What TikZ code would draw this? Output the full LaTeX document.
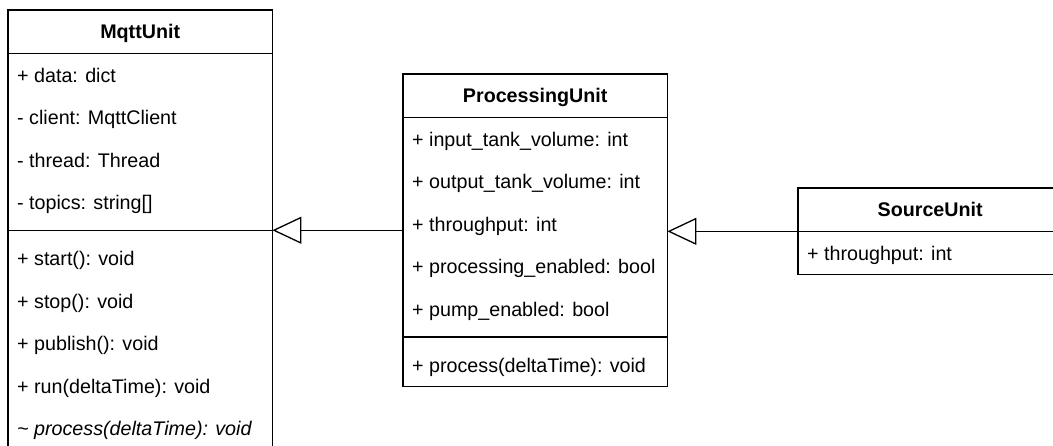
\documentclass[tikz,border=0pt]{standalone}
\usepackage{fontspec}
\setmainfont{Liberation Sans}
\usetikzlibrary{arrows.meta,positioning}
\setlength{\arrayrulewidth}{1.3pt}
\newcommand{\rowstrut}{\rule[-14pt]{0pt}{42.5pt}}
\newcommand{\classhead}[1]{\multicolumn{1}{@{}c@{}}{\rowstrut\textbf{#1}}}
\newcommand{\classrule}{\noalign{\vskip 6pt}\hline\noalign{\vskip 6pt}}

\begin{document}
\begin{tikzpicture}[x=1pt,y=-1pt,
  umlclass/.style={inner sep=0pt, anchor=north west, font=\fontsize{19.7pt}{24pt}\selectfont},
  inherit/.style={-{Triangle[open,length=29pt,width=27pt]}, line width=1.3pt}]
\useasboundingbox (0,0) rectangle (1053,446);
\clip (0,0) rectangle (1053,446);

\node (mqtt) [umlclass] at (8,10) {
\begin{tabular}{@{\hspace{9pt}}p{255pt}@{}}
\classhead{MqttUnit} \\
  \hline
\rowstrut + data: dict \\
\rowstrut - client: MqttClient \\
\rowstrut - thread: Thread \\
\rowstrut - topics: string[] \\
\classrule
\rowstrut + start(): void \\
\rowstrut + stop(): void \\
\rowstrut + publish(): void \\
\rowstrut + run(deltaTime): void \\
\rowstrut \textit{\textasciitilde{} process(deltaTime): void} \\
\end{tabular}
};
\draw [line width=1.3pt] (mqtt.north west) rectangle (mqtt.south east);

\node (proc) [umlclass] at (403,74) {
\begin{tabular}{@{\hspace{9pt}}p{255pt}@{}}
\classhead{ProcessingUnit} \\
  \hline
\rowstrut + input\_tank\_volume: int \\
\rowstrut + output\_tank\_volume: int \\
\rowstrut + throughput: int \\
\rowstrut + processing\_enabled: bool \\
\rowstrut + pump\_enabled: bool \\
\classrule
\rowstrut + process(deltaTime): void \\
\end{tabular}
};
\draw [line width=1.3pt] (proc.north west) rectangle (proc.south east);

\node (source) [umlclass] at (798,188) {
\begin{tabular}{@{\hspace{9pt}}p{255pt}@{}}
\classhead{SourceUnit} \\
  \hline
\rowstrut + throughput: int \\
\end{tabular}
};
\draw [line width=1.3pt] (source.north west) rectangle (source.south east);

% inheritance
\draw [inherit] (proc.west) -- (proc.west -| mqtt.east);
\draw [inherit] (source.west) -- (source.west -| proc.east);
\end{tikzpicture}
\end{document}
